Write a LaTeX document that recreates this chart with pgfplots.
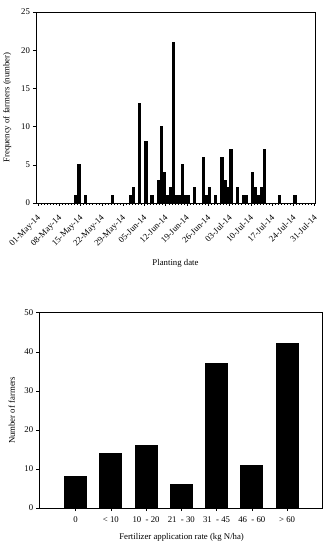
\documentclass[border=0pt]{standalone}
\usepackage{pgfplots}
\pgfplotsset{compat=1.18}
\usepackage{fontspec}
\setmainfont{Liberation Serif}
\begin{document}
\fontsize{8.6}{10}\selectfont
\begin{tikzpicture}
\useasboundingbox (0bp,0bp) rectangle (330bp,550bp);
\pgfplotsset{
  every axis/.append style={
    scale only axis,
    axis line style={black, line width=0.6pt},
    tick style={black, line width=0.5pt},
    tick align=outside,
    tick pos=left,
    /pgf/number format/assume math mode=true,
    tick label style={font=\fontsize{8.8}{10}\selectfont},
    label style={font=\fontsize{8.8}{10}\selectfont},
  }
}
% ---------- top chart ----------
\begin{axis}[
  at={(36bp,347bp)}, anchor=south west,
  width=279bp, height=191bp,
  xmin=-0.66, xmax=91.1,
  ymin=0, ymax=25,
  ytick={0,5,10,15,20,25},
  xtick={0,7,14,21,28,35,42,49,56,63,70,77,84,91},
  xticklabels={01-May-14,08-May-14,15-May-14,22-May-14,29-May-14,05-Jun-14,12-Jun-14,19-Jun-14,26-Jun-14,03-Jul-14,10-Jul-14,17-Jul-14,24-Jul-14,31-Jul-14},
  minor x tick num=6,
  major tick length=3bp,
  minor tick length=1.6bp,
  xticklabel style={yshift=-8bp, xshift=-1.5bp, rotate=45, anchor=north east, inner sep=0pt},
  ylabel={Frequency of farmers (number)},
  ylabel style={at={(axis description cs:-0.103,0.5)}, anchor=center},
  xlabel={Planting date},
  xlabel style={at={(axis description cs:0.5,-0.314)}, anchor=center},
]
\addplot[ybar, bar width=2.2bp, fill=black, draw=black, line width=0pt, bar shift=0pt] coordinates {
(12.5,1) (13.5,5) (15.5,1) (24.5,1) (30.5,1) (31.5,2) (33.5,13) (35.5,8) (37.5,1)
(39.5,3) (40.5,10) (41.5,4) (42.5,1) (43.5,2) (44.5,21) (45.5,1) (46.5,1) (47.5,5)
(48.5,1) (49.5,1) (51.5,2) (54.5,6) (55.5,1) (56.5,2) (58.5,1) (60.5,6) (61.5,3)
(62.5,2) (63.5,7) (65.5,2) (67.5,1) (68.5,1) (70.5,4) (71.5,2) (72.5,1) (73.5,2)
(74.5,7) (79.5,1) (84.5,1)
};
\end{axis}
% ---------- bottom chart ----------
\begin{axis}[
  at={(39.3bp,42bp)}, anchor=south west,
  width=283.4bp, height=195.3bp,
  xmin=-1.03, xmax=7.01,
  ymin=0, ymax=50,
  ytick={0,10,20,30,40,50},
  xtick={0,1,2,3,4,5,6},
  xticklabels={0,< 10,10\ \ - 20,21\ \ - 30,31\ \ - 45,46\ \ - 60,> 60},
  major tick length=3bp,
  xticklabel style={yshift=-3bp},
  ylabel={Number of farmers},
  ylabel style={at={(axis description cs:-0.097,0.5)}, anchor=center},
  xlabel={Fertilizer application rate (kg N/ha)},
  xlabel style={at={(axis description cs:0.502,-0.152)}, anchor=center},
]
\addplot[ybar, bar width=22bp, fill=black, draw=black, line width=0pt, bar shift=0pt] coordinates {
(0,8) (1,14) (2,16) (3,6) (4,37) (5,11) (6,42)
};
\end{axis}
\end{tikzpicture}
\end{document}
